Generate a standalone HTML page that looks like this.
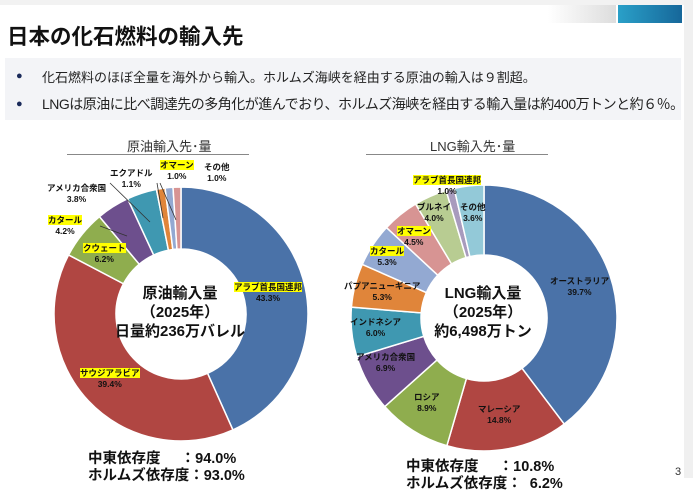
<!DOCTYPE html>
<html><head><meta charset="utf-8"><style>
body{margin:0;width:693px;height:478px;overflow:hidden;background:#fff;font-family:"Liberation Sans","Noto Sans CJK JP",sans-serif;position:relative}
.a{position:absolute;white-space:nowrap}
</style></head><body>
<div class="a" style="left:0;top:0;width:693px;height:5px;background:#f2f2f2"></div>
<div class="a" style="left:684px;top:0;width:9px;height:478px;background:#f0f0f0"></div>
<div class="a" style="left:548px;top:5px;width:68px;height:18px;background:linear-gradient(90deg,#fff,#ddd)"></div>
<div class="a" style="left:618px;top:5px;width:64px;height:18px;background:linear-gradient(90deg,#2aa0c8,#16679a)"></div>
<div class="a" style="left:7px;top:20px;font-size:21.5px;font-weight:bold;color:#111">日本の化石燃料の輸入先</div>
<div class="a" style="left:5px;top:58px;width:676px;height:62px;background:#f3f4f7"></div>
<div class="a" style="left:16px;top:67px;font-size:13px;color:#222"><span style="color:#1a2a5a;font-size:11px">●</span><span style="position:absolute;left:26px">化石燃料のほぼ全量を海外から輸入。ホルムズ海峡を経由する原油の輸入は９割超。</span></div>
<div class="a" style="left:16px;top:94px;font-size:14px;color:#222;letter-spacing:-0.5px"><span style="color:#1a2a5a;font-size:11px">●</span><span style="position:absolute;left:26px">LNGは原油に比べ調達先の多角化が進んでおり、ホルムズ海峡を経由する輸入量は約400万トンと約６％。</span></div>
<svg class="a" style="left:0;top:0" width="693" height="478" id="s"></svg>
<div class="a" style="left:127px;top:136px;font-size:13px;color:#333">原油輸入先･量</div>
<div class="a" style="left:67px;top:154px;width:182px;height:1px;background:#888"></div>
<div class="a" style="left:430px;top:136px;font-size:13px;color:#333">LNG輸入先･量</div>
<div class="a" style="left:366px;top:154px;width:182px;height:1px;background:#888"></div>
<div class="a" style="left:110px;top:284px;width:140px;text-align:center;font-size:15px;font-weight:bold;line-height:19px;color:#111">原油輸入量<br>（2025年）<br>日量約236万バレル</div>
<div class="a" style="left:413px;top:284px;width:140px;text-align:center;font-size:15px;font-weight:bold;line-height:19px;color:#111">LNG輸入量<br>（2025年）<br>約6,498万トン</div>
<div class="a" style="left:88px;top:451px;font-size:14.5px;font-weight:bold;line-height:17px;color:#111">中東依存度&nbsp;&nbsp;&nbsp;&nbsp;&nbsp;：94.0%<br>ホルムズ依存度：93.0%</div>
<div class="a" style="left:406px;top:459px;font-size:14.5px;font-weight:bold;line-height:17px;color:#111">中東依存度&nbsp;&nbsp;&nbsp;&nbsp;&nbsp;：10.8%<br>ホルムズ依存度：&nbsp;&nbsp;6.2%</div>
<div class="a" style="left:675px;top:466px;font-size:11px;color:#333">3</div>
<script>
var s=document.getElementById('s'),NS='http://www.w3.org/2000/svg';
function donut(cx,cy,R,r,data){var a=0;data.forEach(function(d){var a0=a,a1=a+d[0]/100*2*Math.PI;a=a1;
function p(rr,t){return [cx+rr*Math.sin(t),cy-rr*Math.cos(t)];}
var L=(a1-a0)>Math.PI?1:0,P1=p(R,a0),P2=p(R,a1),P3=p(r,a1),P4=p(r,a0);
var e=document.createElementNS(NS,'path');
e.setAttribute('d','M'+P1+'A'+R+','+R+' 0 '+L+' 1 '+P2+'L'+P3+'A'+r+','+r+' 0 '+L+' 0 '+P4+'Z');
e.setAttribute('fill',d[1]);e.setAttribute('stroke','#fff');e.setAttribute('stroke-width','1.5');s.appendChild(e);});}
donut(181,314,127,65,[[43.3,'#4a72a8'],[39.4,'#b04642'],[6.2,'#8fad4e'],[4.2,'#6d4f8d'],[3.8,'#3f98b1'],[1.1,'#e0853a'],[1.0,'#93a9d2'],[1.0,'#d79493']]);
donut(484,318,133,63,[[39.7,'#4a72a8'],[14.8,'#b04642'],[8.9,'#8fad4e'],[6.9,'#6d4f8d'],[6.0,'#3f98b1'],[5.3,'#e0853a'],[5.3,'#93a9d2'],[4.5,'#d79493'],[4.0,'#b8cc92'],[1.0,'#a89bbd'],[3.6,'#93c9d8']]);
[[110,183,150,222],[100,226,127,236],[157,183,163,218],[160,183,176,220]].forEach(function(l){var e=document.createElementNS(NS,'line');e.setAttribute('x1',l[0]);e.setAttribute('y1',l[1]);e.setAttribute('x2',l[2]);e.setAttribute('y2',l[3]);e.setAttribute('stroke','#333');e.setAttribute('stroke-width','0.8');s.appendChild(e);});
</script>
<div style="position:absolute;left:0;top:0;font-size:8.5px;font-weight:bold;color:#111;line-height:11px">
<div class="a" style="left:234px;top:282px;text-align:center"><span style="background:#ff0">アラブ首長国連邦</span><br>43.3%</div>
<div class="a" style="left:80px;top:368px;text-align:center"><span style="background:#ff0">サウジアラビア</span><br>39.4%</div>
<div class="a" style="left:83px;top:243px;text-align:center"><span style="background:#ff0">クウェート</span><br>6.2%</div>
<div class="a" style="left:48px;top:215px;text-align:center"><span style="background:#ff0">カタール</span><br>4.2%</div>
<div class="a" style="left:47px;top:183px;text-align:center">アメリカ合衆国<br>3.8%</div>
<div class="a" style="left:110px;top:168px;text-align:center">エクアドル<br>1.1%</div>
<div class="a" style="left:160px;top:160px;text-align:center"><span style="background:#ff0">オマーン</span><br>1.0%</div>
<div class="a" style="left:204px;top:162px;text-align:center">その他<br>1.0%</div>
<div class="a" style="left:550px;top:276px;text-align:center">オーストラリア<br>39.7%</div>
<div class="a" style="left:478px;top:404px;text-align:center">マレーシア<br>14.8%</div>
<div class="a" style="left:414px;top:392px;text-align:center">ロシア<br>8.9%</div>
<div class="a" style="left:356px;top:352px;text-align:center">アメリカ合衆国<br>6.9%</div>
<div class="a" style="left:350px;top:317px;text-align:center">インドネシア<br>6.0%</div>
<div class="a" style="left:344px;top:281px;text-align:center">パプアニューギニア<br>5.3%</div>
<div class="a" style="left:370px;top:246px;text-align:center"><span style="background:#ff0">カタール</span><br>5.3%</div>
<div class="a" style="left:397px;top:226px;text-align:center"><span style="background:#ff0">オマーン</span><br>4.5%</div>
<div class="a" style="left:417px;top:202px;text-align:center">ブルネイ<br>4.0%</div>
<div class="a" style="left:413px;top:175px;text-align:center"><span style="background:#ff0">アラブ首長国連邦</span><br>1.0%</div>
<div class="a" style="left:460px;top:202px;text-align:center">その他<br>3.6%</div>
</div>
</body></html>
